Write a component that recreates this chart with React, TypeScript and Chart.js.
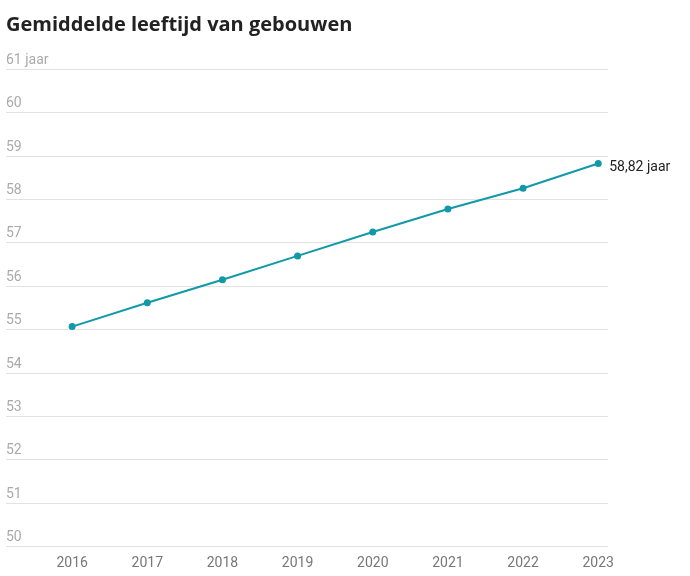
import React, { useEffect, useRef } from "react";
import { Chart, registerables } from "chart.js";
Chart.register(...registerables);

const title = "Gemiddelde leeftijd van gebouwen";
const years = [2016, 2017, 2018, 2019, 2020, 2021, 2022, 2023];
const ages = [55.06, 55.61, 56.14, 56.69, 57.24, 57.77, 58.25, 58.82];
const yTicks = [50, 51, 52, 53, 54, 55, 56, 57, 58, 59, 60, 61];
const lastLabel = "58,82 jaar";

export default function App() {
  const ref = useRef<HTMLCanvasElement>(null);
  useEffect(() => {
    const font = "Roboto, 'Noto Sans', sans-serif";
    const deco = {
      id: "deco",
      beforeDatasetsDraw(c: any) {
        const { ctx, scales } = c;
        const x = scales.x, y = scales.y;
        ctx.save();
        ctx.strokeStyle = "#e2e2e2";
        ctx.lineWidth = 1;
        ctx.fillStyle = "#aaaaaa";
        ctx.font = `14px ${font}`;
        ctx.textBaseline = "bottom";
        ctx.textAlign = "left";
        yTicks.forEach((t) => {
          const py = Math.round(y.getPixelForValue(t)) + 0.5;
          ctx.beginPath();
          ctx.moveTo(x.left, py);
          ctx.lineTo(x.right, py);
          ctx.stroke();
          ctx.fillText(t === 61 ? `${t} jaar` : String(t), x.left, py - 2);
        });
        ctx.fillStyle = "#777";
        ctx.textAlign = "center";
        ctx.textBaseline = "middle";
        years.forEach((yr) => ctx.fillText(String(yr), x.getPixelForValue(yr), 563));
        ctx.fillStyle = "#222";
        ctx.font = `bold 20px 'Open Sans', ${font}`;
        ctx.textAlign = "left";
        ctx.fillText(title, 6, 25);
        ctx.font = `14px ${font}`;
        const n = years.length - 1;
        ctx.fillText(lastLabel, x.getPixelForValue(years[n]) + 11, y.getPixelForValue(ages[n]) + 4);
        ctx.restore();
      },
    };
    const chart = new Chart(ref.current!, {
      type: "line",
      data: {
        datasets: [{
          data: years.map((yr, i) => ({ x: yr, y: ages[i] })),
          borderColor: "#1199a8",
          backgroundColor: "#1199a8",
          borderWidth: 2,
          pointRadius: 2.5,
        }],
      },
      options: {
        animation: false,
        responsive: false,
        layout: { padding: { left: 6, right: 82, top: 69, bottom: 30 } },
        plugins: { legend: { display: false }, tooltip: { enabled: false } },
        scales: {
          x: { type: "linear", min: 2015.12, max: 2023.13, display: false },
          y: { min: 50, max: 61, display: false },
        },
      },
      plugins: [deco],
    });
    return () => chart.destroy();
  }, []);
  return (
    <div style={{ position: "fixed", left: 0, top: 0, background: "#fff" }}>
      <canvas ref={ref} width={690} height={576} />
    </div>
  );
}
